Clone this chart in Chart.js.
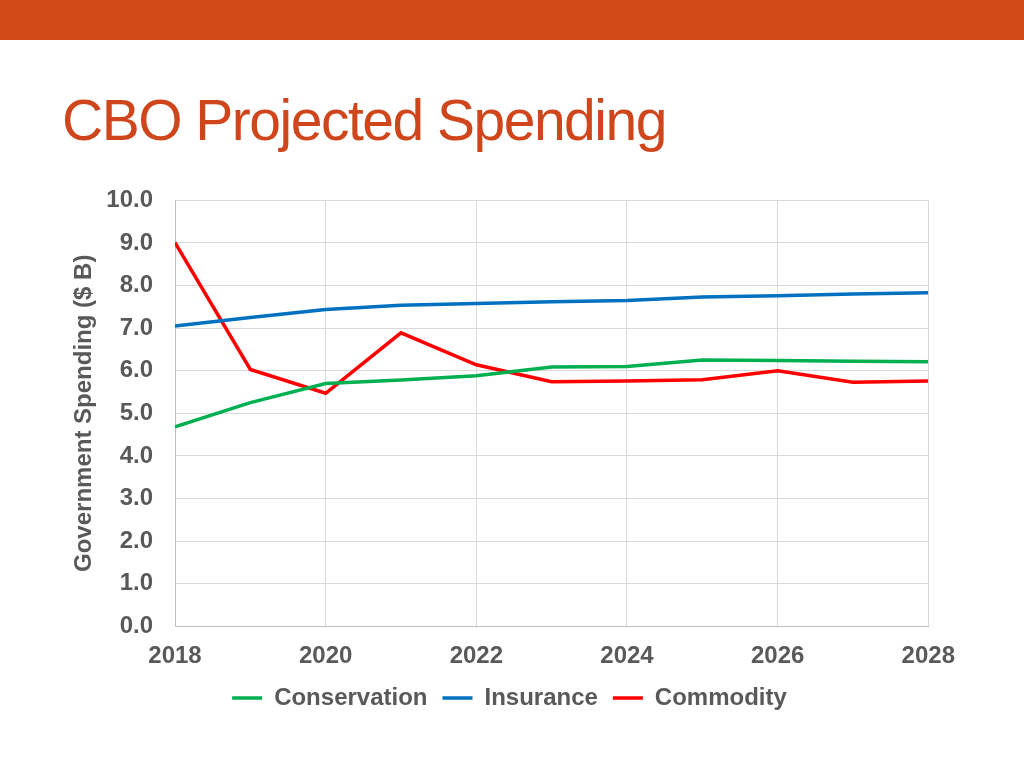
<!DOCTYPE html>
<html>
<head>
<meta charset="utf-8">
<script src="https://cdn.jsdelivr.net/npm/chart.js@4/dist/chart.umd.min.js"></script>
<style>
  body { margin: 0; width: 1024px; height: 768px; background: #fff; position: relative; overflow: hidden; }
  #barra { position: absolute; left: 0; top: 0; width: 1024px; height: 40px; background: #D24A18; }
  #titulo { position: absolute; left: 62px; top: 87px; font-family: "Liberation Sans", Arial, sans-serif;
            font-size: 57px; color: #D0461C; letter-spacing: -1.5px; white-space: nowrap; }
  #caja { position: absolute; left: 68px; top: 184px; width: 887px; height: 536px; }
</style>
</head>
<body>
<div id="barra"></div>
<div id="titulo">CBO Projected Spending</div>
<div id="caja"><canvas id="graph"></canvas></div>
<script>
// datos
const anios = [2018, 2019, 2020, 2021, 2022, 2023, 2024, 2025, 2026, 2027, 2028];
const conservacion = [4.68, 5.25, 5.70, 5.78, 5.88, 6.09, 6.10, 6.25, 6.24, 6.22, 6.21];
const seguro = [7.05, 7.25, 7.44, 7.54, 7.58, 7.62, 7.65, 7.73, 7.76, 7.80, 7.83];
const commodity = [9.01, 6.03, 5.47, 6.89, 6.14, 5.74, 5.76, 5.79, 6.00, 5.73, 5.76];
const nombres = ['Conservation', 'Insurance', 'Commodity'];
const colores = ['#00B050', '#0070C0', '#FF0000'];

const fuente = '"Liberation Sans", Arial, sans-serif';
const gris = '#595959';

const puntos = valores => anios.map((a, i) => ({ x: a, y: valores[i] }));

const series = [conservacion, seguro, commodity].map((valores, i) => ({
    label: nombres[i],
    data: puntos(valores),
    borderColor: colores[i],
    backgroundColor: colores[i],
    borderWidth: 3.5,
    pointRadius: 0,
    tension: 0
}));

new Chart(document.getElementById('graph'), {
    type: 'line',
    data: { datasets: series },
    options: {
        responsive: true,
        maintainAspectRatio: false,
        animation: false,
        layout: { padding: { left: 0, right: 4, top: 4, bottom: 0 } },
        plugins: {
            tooltip: { enabled: false },
            legend: {
                position: 'bottom',
                labels: {
                    usePointStyle: true,
                    pointStyle: 'line',
                    pointStyleWidth: 30,
                    padding: 15,
                    color: gris,
                    font: { family: fuente, size: 24, weight: 'bold' }
                }
            }
        },
        scales: {
            x: {
                type: 'linear',
                min: 2018,
                max: 2028,
                ticks: {
                    stepSize: 2,
                    color: gris,
                    padding: 0,
                    font: { family: fuente, size: 24, weight: 'bold' },
                    callback: v => String(v)
                },
                grid: { color: '#D9D9D9', drawTicks: true, tickLength: 16, tickColor: 'rgba(0,0,0,0)' },
                border: { color: '#BFBFBF' }
            },
            y: {
                min: 0,
                max: 10,
                afterFit: eje => { eje.width = 107; },
                ticks: {
                    stepSize: 1,
                    color: gris,
                    padding: 2,
                    font: { family: fuente, size: 24, weight: 'bold' },
                    callback: v => v.toFixed(1)
                },
                grid: { color: '#D9D9D9', drawTicks: true, tickLength: 20, tickColor: 'rgba(0,0,0,0)' },
                border: { color: '#BFBFBF' },
                title: {
                    display: true,
                    text: 'Government Spending ($ B)',
                    color: gris,
                    padding: { top: 2, bottom: 8 },
                    font: { family: fuente, size: 24, weight: 'bold' }
                }
            }
        }
    }
});
</script>
</body>
</html>
